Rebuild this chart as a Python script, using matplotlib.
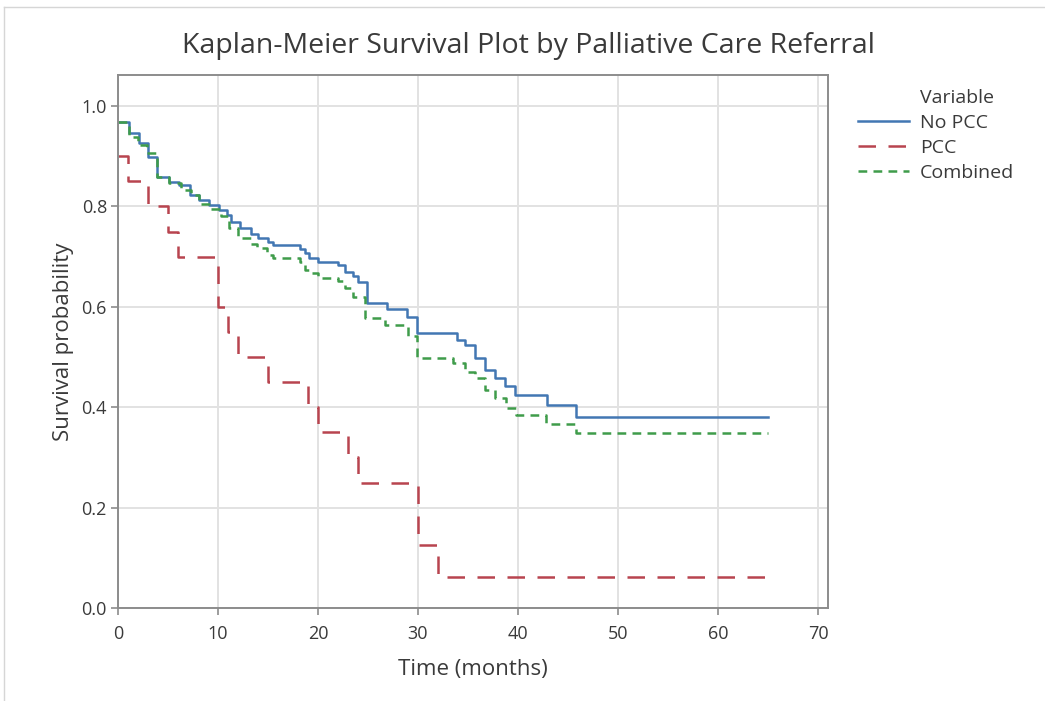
import matplotlib.pyplot as plt
from matplotlib.lines import Line2D

plt.rcParams['font.family'] = ['Open Sans', 'DejaVu Sans']

# Kaplan-Meier step estimates (time in months, survival probability)
no_pcc_time = [0, 1.1, 2.1, 3.0, 3.9, 5.1, 6.1, 7.2, 8.1, 9.1, 10.1, 10.9, 11.3, 12.2,
               13.3, 14.0, 15.0, 15.5, 18.2, 18.7, 19.1, 20.0, 22.0, 22.7, 23.5, 24.0,
               24.9, 26.9, 28.9, 29.9, 33.9, 34.7, 35.7, 36.7, 37.7, 38.7, 39.7, 42.9,
               45.8, 65]
no_pcc_surv = [0.968, 0.947, 0.926, 0.899, 0.859, 0.849, 0.842, 0.823, 0.813, 0.803,
               0.793, 0.783, 0.770, 0.757, 0.745, 0.737, 0.730, 0.723, 0.715, 0.707,
               0.697, 0.690, 0.683, 0.670, 0.661, 0.650, 0.607, 0.596, 0.580, 0.548,
               0.534, 0.524, 0.498, 0.474, 0.458, 0.442, 0.425, 0.405, 0.380, 0.380]

pcc_time = [0, 1, 3, 5, 6, 10, 11, 12, 15, 19, 20, 23, 24, 30, 32, 65]
pcc_surv = [0.90, 0.85, 0.80, 0.75, 0.70, 0.60, 0.55, 0.50, 0.45, 0.40, 0.35, 0.30,
            0.25, 0.125, 0.0625, 0.0625]

comb_time = [0, 1.1, 2.0, 2.9, 3.9, 5.1, 6.3, 7.3, 8.1, 9.3, 10.3, 11.1, 12.0, 13.3,
             13.9, 14.9, 15.5, 18.2, 18.7, 19.2, 20.0, 22.0, 22.7, 23.5, 24.7, 26.7,
             29.0, 29.9, 33.5, 34.7, 35.7, 36.7, 37.7, 38.8, 39.8, 42.8, 45.8, 65]
comb_surv = [0.968, 0.939, 0.922, 0.906, 0.859, 0.847, 0.833, 0.823, 0.805, 0.795,
             0.782, 0.757, 0.737, 0.725, 0.717, 0.704, 0.697, 0.690, 0.673, 0.668,
             0.657, 0.651, 0.637, 0.620, 0.577, 0.564, 0.542, 0.498, 0.488, 0.470,
             0.458, 0.434, 0.418, 0.398, 0.384, 0.366, 0.348, 0.348]

blue = '#4277b3'
red = '#b8444f'
green = '#3f9c4a'
txt = '#3a3a3a'

fig = plt.figure(figsize=(10.45, 7.01), dpi=100)
ax = fig.add_axes([118 / 1045, 1 - 608 / 701, 710 / 1045, 533 / 701])

ax.step(no_pcc_time, no_pcc_surv, where='post', color=blue, lw=1.8, label='No PCC')
ax.step(pcc_time, pcc_surv, where='post', color=red, lw=1.8, dashes=(7, 5), label='PCC')
ax.step(comb_time, comb_surv, where='post', color=green, lw=1.8, dashes=(3.5, 2.5),
        label='Combined')

ax.set_xlim(0, 71)
ax.set_ylim(0, 1.062)
ax.set_xticks(range(0, 71, 10))
ax.set_yticks([0.0, 0.2, 0.4, 0.6, 0.8, 1.0])
ax.set_yticklabels(['0.0', '0.2', '0.4', '0.6', '0.8', '1.0'])
ax.grid(True, color='#e2e2e2', lw=1.4)
ax.set_axisbelow(True)
for s in ax.spines.values():
    s.set_color('#8c8c8c')
    s.set_linewidth(1.4)
ax.tick_params(colors='#8c8c8c', labelcolor=txt, labelsize=13, length=5, width=1.2,
               pad=3)
ax.tick_params(axis='x', pad=7)

ax.set_xlabel('Time (months)', fontsize=16, color=txt, labelpad=12)
ax.set_ylabel('Survival probability', fontsize=16, color=txt, labelpad=5)
fig.text(528 / 1045, 1 - 46 / 701, 'Kaplan-Meier Survival Plot by Palliative Care Referral',
         ha='center', va='center', fontsize=20.5, color=txt)

# legend with the heading as a blank first entry so it lines up with the labels
head = Line2D([], [], color='none', label='Variable')
handles, labels = ax.get_legend_handles_labels()
leg = fig.legend([head] + handles, ['Variable'] + labels, loc='upper left',
                 bbox_to_anchor=(858 / 1045, 1 - 89 / 701), frameon=False,
                 fontsize=14, handlelength=2.6, handletextpad=0.6, labelspacing=0.36,
                 borderaxespad=0, borderpad=0)
for t in leg.get_texts():
    t.set_color(txt)

# thin frame along the top and left edges
fig.add_artist(Line2D([4 / 1045, 1], [1 - 7 / 701, 1 - 7 / 701], color='#d6d6d6', lw=1))
fig.add_artist(Line2D([4 / 1045, 4 / 1045], [0, 1 - 7 / 701], color='#d6d6d6', lw=1))

fig.savefig('out.png', dpi=100)
